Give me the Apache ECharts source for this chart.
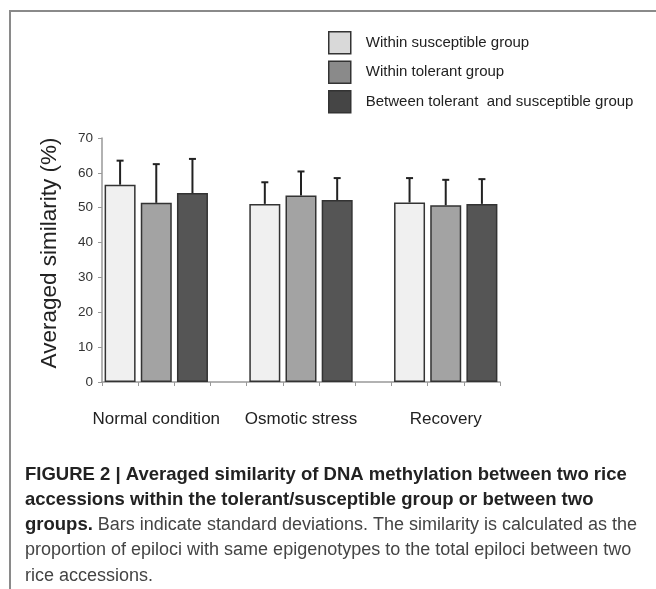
<!DOCTYPE html>
<html>
<head>
<meta charset="utf-8">
<script src="https://cdn.jsdelivr.net/npm/echarts@6/dist/echarts.min.js"></script>
<style>
html,body{margin:0;padding:0;background:#fff;}
#chart{width:656px;height:589px;}
</style>
</head>
<body>
<div id="chart"></div>
<script>
// ---- data ----
var categories = ['Normal condition', 'Osmotic stress', 'Recovery'];
var seriesNames = ['Within susceptible group', 'Within tolerant group', 'Between tolerant  and susceptible group'];
var susceptibleMean = [56.6, 51.1, 51.5];
var tolerantMean = [51.4, 53.5, 50.7];
var betweenMean = [54.2, 52.2, 51.1];
var susceptibleSD = [6.9, 6.2, 7.0];
var tolerantSD = [11.1, 6.9, 7.3];
var betweenSD = [9.8, 6.3, 7.1];
var yTicks = [0, 10, 20, 30, 40, 50, 60, 70];

var captionLines = [
  'FIGURE 2 | Averaged similarity of DNA methylation between two rice',
  'accessions within the tolerant/susceptible group or between two',
  'groups.',
  ' Bars indicate standard deviations. The similarity is calculated as the',
  'proportion of epiloci with same epigenotypes to the total epiloci between two',
  'rice accessions.'
];

// ---- build slot axis: 3 bars per group + 1 empty slot between groups ----
var means = [susceptibleMean, tolerantMean, betweenMean];
var sds = [susceptibleSD, tolerantSD, betweenSD];
var nSeries = means.length;
var slotsPerGroup = nSeries + 1;
var nSlots = categories.length * slotsPerGroup - 1;
var slotLabels = [];
for (var i = 0; i < nSlots; i++) slotLabels.push('');
categories.forEach(function (c, g) { slotLabels[g * slotsPerGroup + 1] = c; });

var fills = ['#f0f0f0', '#a3a3a3', '#555555'];
var legendFills = ['#d9d9d9', '#8a8a8a', '#454545'];

var series = [];
var errData = [];
for (var s = 0; s < nSeries; s++) {
  var d = [];
  for (var k = 0; k < nSlots; k++) d.push('-');
  for (var g = 0; g < categories.length; g++) {
    var idx = g * slotsPerGroup + s;
    d[idx] = means[s][g];
    errData.push([idx, means[s][g], sds[s][g]]);
  }
  series.push({
    name: seriesNames[s],
    type: 'bar',
    data: d,
    barWidth: 31,
    barGap: '-100%',
    itemStyle: { color: fills[s], borderColor: '#333', borderWidth: 1.5 },
    emphasis: { disabled: true },
    animation: false
  });
}
series.push({
  type: 'custom',
  data: errData,
  animation: false,
  silent: true,
  z: 10,
  renderItem: function (params, api) {
    var x = api.value(0), v = api.value(1), sd = api.value(2);
    var p0 = api.coord([x, v]);
    var p1 = api.coord([x, v + sd]);
    var st = { stroke: '#222', lineWidth: 2 };
    return {
      type: 'group',
      children: [
        { type: 'line', shape: { x1: p0[0], y1: p0[1], x2: p1[0], y2: p1[1] }, style: st },
        { type: 'line', shape: { x1: p1[0] - 3.5, y1: p1[1], x2: p1[0] + 3.5, y2: p1[1] }, style: st }
      ]
    };
  }
});

var font = '"Liberation Sans", Arial, Helvetica, sans-serif';
var capX = 25;
var capY = [475, 500, 525, 550, 576];
var boldFont = 'bold 18.5px ' + font;
var regFont = '18px ' + font;

var graphics = [
  { type: 'line', shape: { x1: 10, y1: 11, x2: 656, y2: 11 }, style: { stroke: '#8a8a8a', lineWidth: 2 }, silent: true },
  { type: 'line', shape: { x1: 10, y1: 10, x2: 10, y2: 589 }, style: { stroke: '#8a8a8a', lineWidth: 2 }, silent: true },
  { type: 'text', x: capX, y: capY[0], style: { text: captionLines[0], font: boldFont, fill: '#222', textVerticalAlign: 'middle' } },
  { type: 'text', x: capX, y: capY[1], style: { text: captionLines[1], font: boldFont, fill: '#222', textVerticalAlign: 'middle' } },
  { type: 'text', x: capX, y: capY[2], style: {
      text: '{b|' + captionLines[2] + '}{r|' + captionLines[3] + '}',
      textVerticalAlign: 'middle',
      rich: {
        b: { font: boldFont, fill: '#222' },
        r: { font: regFont, fill: '#444' }
      }
  } },
  { type: 'text', x: capX, y: capY[3], style: { text: captionLines[4], font: regFont, fill: '#444', textVerticalAlign: 'middle' } },
  { type: 'text', x: capX, y: capY[4], style: { text: captionLines[5], font: regFont, fill: '#444', textVerticalAlign: 'middle' } }
];

var chart = echarts.init(document.getElementById('chart'), null, { renderer: 'canvas' });
chart.setOption({
  backgroundColor: '#fff',
  animation: false,
  textStyle: { fontFamily: font },
  legend: {
    orient: 'vertical',
    left: 328,
    top: 31,
    padding: 0,
    itemWidth: 22,
    itemHeight: 22,
    itemGap: 6,
    icon: 'rect',
    selectedMode: false,
    textStyle: { fontSize: 15, color: '#222', fontFamily: font, padding: [0, 0, 0, 10] },
    data: seriesNames.map(function (n, i) {
      return { name: n, itemStyle: { color: legendFills[i], borderColor: '#333', borderWidth: 1.5 } };
    })
  },
  grid: { left: 102, right: 156, top: 138, bottom: 207, containLabel: false },
  xAxis: {
    type: 'category',
    data: slotLabels,
    boundaryGap: true,
    axisLine: { lineStyle: { color: '#999', width: 1.5 } },
    axisTick: { show: true, interval: 0, length: 4, lineStyle: { color: '#999' } },
    axisLabel: { interval: 0, margin: 29, fontSize: 17, color: '#222', fontFamily: font }
  },
  yAxis: {
    type: 'value',
    min: yTicks[0],
    max: yTicks[yTicks.length - 1],
    interval: yTicks[1] - yTicks[0],
    name: 'Averaged similarity (%)',
    nameLocation: 'middle',
    nameGap: 41,
    nameTextStyle: { fontSize: 22.5, color: '#222', fontFamily: font, padding: [0, 0, 0, 14] },
    splitLine: { show: false },
    axisLine: { show: true, lineStyle: { color: '#999', width: 1.5 } },
    axisTick: { show: true, length: 4, lineStyle: { color: '#999' } },
    axisLabel: { fontSize: 13.5, color: '#333', margin: 9, fontFamily: font }
  },
  series: series,
  graphic: graphics
});
</script>
</body>
</html>
